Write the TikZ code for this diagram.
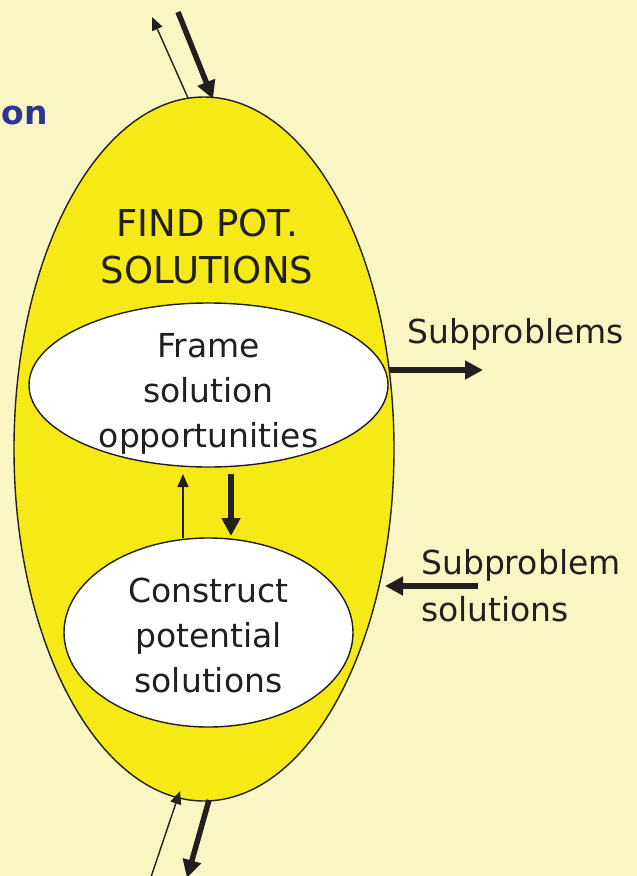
\documentclass[tikz,border=0pt]{standalone}
\usepackage{fontspec}
\setmainfont{DejaVu Sans}
\usepackage{xcolor}
\usetikzlibrary{arrows.meta,shapes.geometric,calc}
\definecolor{paper}{HTML}{FAF6C4}
\definecolor{lemon}{HTML}{F5EA16}
\definecolor{titleblue}{HTML}{2E3494}
\definecolor{ink}{HTML}{231F20}

\begin{document}
\begin{tikzpicture}[
    x=1pt, y=-1pt,
    outer/.style={ellipse, draw=ink, line width=1.4pt, fill=lemon, inner sep=0pt},
    inner/.style={ellipse, draw=ink, line width=1.4pt, fill=white, inner sep=0pt, align=center, font=\fontsize{33}{45}\selectfont, text=ink},
    label/.style={font=\fontsize{33}{47}\selectfont, text=ink, align=left, inner sep=0pt},
    thin/.style={->, draw=ink, line width=1.4pt, >={Triangle[length=13pt,width=11pt]}},
    heavy/.style={->, draw=ink, line width=5.5pt, >={Triangle[length=18pt,width=18pt]}}
]
\fill[paper] (0,0) rectangle (637,876);
\useasboundingbox (0,0) rectangle (637,876);
\node[font=\bfseries\fontsize{33}{38}\selectfont, text=titleblue, anchor=base east, inner sep=0pt] (heading) at (48,124) {on};
\node[outer, minimum width=380, minimum height=704] (find) at (204,449) {};
\node[label, align=center, font=\fontsize{37}{47}\selectfont] (findtext) at (207,247) {FIND POT.\\SOLUTIONS};
\node[inner, inner ysep=-16pt, minimum width=359, minimum height=164] (frame) at (208.5,385) {\rule{0pt}{42pt}Frame\\solution\\opportunities};
\node[inner, minimum width=289, minimum height=189] (construct) at (208.5,632.5) {\rule{0pt}{31pt}Construct\\potential\\solutions};
\node[label, anchor=base west] (subprob) at (407,343) {Subproblems};
\node[label, anchor=west] (subsol) at (421,586) {Subproblem\\solutions};
% loop between the two activities
\coordinate (upfrom) at (183,538);
\coordinate (upto) at (183,474);
\coordinate (downfrom) at (231,474);
\coordinate (downto) at (231,536);
\draw[thin] (upfrom) -- (upto);
\draw[heavy] (downfrom) -- (downto);
% exchange with the outside
\coordinate (outright) at (483,370);
\coordinate (inright) at (478,586);
\coordinate (inleft) at (385,586);
\draw[heavy] (frame.east |- outright) -- (outright);
\draw[heavy] (inright) -- (inleft);
% top and bottom flows
\coordinate (topthinfrom) at (188,98);
\coordinate (topthinto) at (152,17);
\coordinate (topheavyfrom) at (178,12);
\coordinate (topheavyto) at (213,99);
\coordinate (botthinfrom) at (150,880);
\coordinate (botthinto) at (180,791);
\coordinate (botheavyfrom) at (209,800);
\coordinate (botheavyto) at (187,878);
\draw[thin] (topthinfrom) -- (topthinto);
\draw[heavy] (topheavyfrom) -- (topheavyto);
\draw[thin] (botthinfrom) -- (botthinto);
\draw[heavy] (botheavyfrom) -- (botheavyto);
\end{tikzpicture}
\end{document}
